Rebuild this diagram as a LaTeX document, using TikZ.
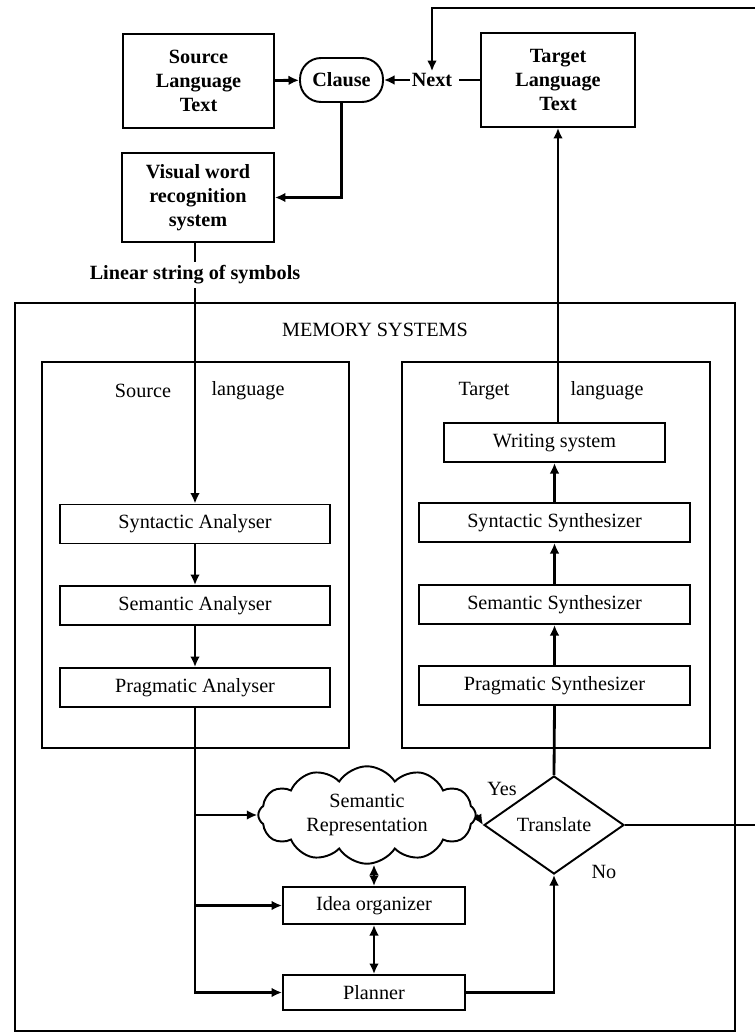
\documentclass[tikz,border=0pt]{standalone}
\usepackage{fontspec}
\setmainfont{Liberation Serif}
\usepackage{tikz}
\usetikzlibrary{arrows.meta}
\usetikzlibrary{shapes.geometric}
\usetikzlibrary{shapes.symbols}
\usetikzlibrary{calc}

\tikzset{
	txt/.style={font=\fontsize{11.5}{13.5}\selectfont},
	btxt/.style={font=\fontsize{11.5}{13.5}\selectfont\bfseries, align=center},
	topbox/.style={draw, line width=1.1pt, inner sep=0pt, btxt},
	proc/.style={draw, line width=1.1pt, inner sep=0pt, txt, minimum height=0.78cm},
	frame/.style={line width=1pt},
	link/.style={line width=1.6pt, -{Latex[length=6pt,width=5.5pt]}},
	plain/.style={line width=1.6pt},
	both/.style={line width=1.6pt, {Latex[length=6pt,width=5.5pt]}-{Latex[length=6pt,width=5.5pt]}}
}

\begin{document}
\begin{tikzpicture}[x=0.02cm,y=-0.02cm]
		\useasboundingbox (0,0) rectangle (754,1034);

		% input side
		\node[topbox, minimum width=3.02cm, minimum height=1.88cm] (SL) at (198.5,81) {Source\\Language\\Text};
		\node[topbox, rounded corners=12pt, minimum width=1.66cm, minimum height=0.88cm] (Cl) at (341.5,80) {Clause};
		\node[btxt, inner sep=1pt] (Nx) at (432,80) {Next};
		\node[topbox, minimum width=3.08cm, minimum height=1.88cm] (TL) at (558,80) {Target\\Language\\Text};
		\node[topbox, minimum width=3.04cm, minimum height=1.78cm] (VW) at (198,197.5) {Visual word\\recognition\\system};
		\node[btxt, inner sep=2pt] (LS) at (195,275) {Linear string of symbols};
		\coordinate (R) at (760,8);

		% memory systems
		\draw[frame] (15,303) rectangle (735,1031);
		\node[txt] (MS) at (375,330) {MEMORY SYSTEMS};
		\draw[frame] (42,362) rectangle (349,748);
		\draw[frame] (402,362) rectangle (710,748);
		\node[txt] at (143,391) {Source};
		\node[txt] at (248,391) {language};
		\node[txt] at (484,391) {Target};
		\node[txt] at (607,391) {language};

		% source language
		\node[proc, minimum width=5.4cm] (SA) at (195,524) {Syntactic Analyser};
		\node[proc, minimum width=5.4cm] (MA) at (195,605.5) {Semantic Analyser};
		\node[proc, minimum width=5.4cm] (PA) at (195,687.5) {Pragmatic Analyser};

		% target language
		\node[proc, minimum width=4.42cm] (WS) at (554.5,442.5) {Writing system};
		\node[proc, minimum width=5.42cm] (SS) at (554.5,522.5) {Syntactic Synthesizer};
		\node[proc, minimum width=5.42cm] (MSy) at (554.5,604.5) {Semantic Synthesizer};
		\node[proc, minimum width=5.42cm] (PS) at (554.5,685.5) {Pragmatic Synthesizer};

		% lower part
		\node[cloud, draw, line width=1.1pt, cloud puffs=12, cloud puff arc=115, aspect=2.3,
			minimum width=4.35cm, minimum height=1.95cm, inner sep=0pt, txt, align=center] (SR) at (367,815) {Semantic\\Representation};
		\node[diamond, draw, line width=1.1pt, aspect=1.4, inner sep=0pt, minimum width=2.8cm,
			minimum height=1.96cm, txt] (Tr) at (554,825) {Translate};
		\node[proc, minimum width=3.64cm, minimum height=0.74cm] (IO) at (374,905.5) {Idea organizer};
		\node[proc, minimum width=3.64cm, minimum height=0.7cm] (Pl) at (374,992.5) {Planner};
		\node[txt] (Y) at (502,789) {Yes};
		\node[txt] (N) at (604,872) {No};

		% connectors
		\draw[link] (SL) -- (Cl);
		\draw[link] (Nx) -- (Cl);
		\draw[plain] (TL) -- ($(Nx.east)+(5,0)$);
		\draw[link] (Cl.south) |- (VW.east);
		\draw[plain] (VW.south -| LS) -- (LS);
		\draw[link] (LS) -- (SA);
		\draw[link] (SA) -- (MA);
		\draw[link] (MA) -- (PA);
		\draw[link] (PA.south) |- (Pl.west);
		\draw[link] (PA.south |- SR.west) -- (SR.west);
		\draw[link] (PA.south |- IO.west) -- (IO.west);
		\draw[both] (IO.north) -- (IO.north |- SR.south);
		\draw[both] (IO) -- (Pl);
		\draw[link] (Pl.east) -| (Tr.south);
		\draw[link] (SR.east) -- (Tr.west);
		\draw[plain] (Tr.north) -- (PS.south);
		\draw[link] (PS) -- (MSy);
		\draw[link] (MSy) -- (SS);
		\draw[link] (SS) -- (WS);
		\draw[link] (WS.north -| TL) -- (TL.south);
		\draw[link] (Tr.east) -| (R) -| (Nx.north);
\end{tikzpicture}
\end{document}
